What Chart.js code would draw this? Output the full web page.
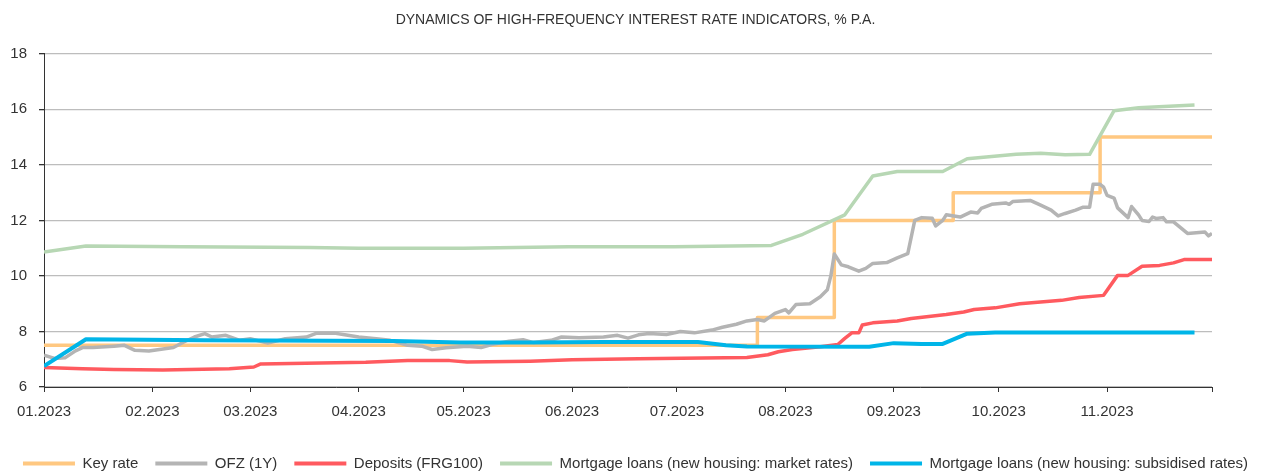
<!DOCTYPE html>
<html lang="en">
<head>
<meta charset="UTF-8" />
<title>Dynamics of high-frequency interest rate indicators</title>
<script src="https://cdn.jsdelivr.net/npm/chart.js"></script>
<style>
  body {
    margin: 0;
    background: #fff;
  }
  #wrap {
    width: 1271px;
    height: 475px;
  }
</style>
</head>
<body>

<div id="wrap">
  <canvas id="rateChart" width="1271" height="475"></canvas>
</div>

<script>
  // x values are days since 01.01.2023
  const monthTicks = [0, 31, 59, 90, 120, 151, 181, 212, 243, 273, 304, 334];
  const monthLabels = ['01.2023', '02.2023', '03.2023', '04.2023', '05.2023', '06.2023',
                       '07.2023', '08.2023', '09.2023', '10.2023', '11.2023', ''];

  const keyRateDays = [0, 204, 226, 260, 302, 334];
  const keyRate = [7.5, 8.5, 12, 13, 15, 15];

  const ofzDays = [0, 3, 6, 9, 11, 14, 20, 23, 26, 30, 34, 37, 40, 43, 46, 48, 52, 56, 59, 64,
                   69, 75, 78, 83, 86, 90, 95, 99, 104, 108, 111, 115, 121, 125, 128, 133, 137, 140, 145, 148,
                   153, 160, 164, 167, 170, 173, 178, 182, 186, 191, 194, 198, 201, 204, 206, 209, 212, 213, 215, 219,
                   222, 224, 225, 226, 228, 230, 233, 235, 237, 241, 244, 247, 249, 251, 254, 255, 257, 258, 262, 265,
                   267, 268, 271, 275, 276, 277, 282, 285, 288, 290, 292, 295, 297, 299, 300, 302, 303, 304, 306, 307,
                   310, 311, 313, 314, 316, 317, 318, 320, 321, 323, 327, 332, 333, 334];
  const ofz = [7.15, 7.03, 7.05, 7.3, 7.42, 7.42, 7.47, 7.5, 7.32, 7.3, 7.37, 7.42, 7.62, 7.8, 7.92, 7.8, 7.86, 7.68, 7.74, 7.58,
               7.74, 7.8, 7.94, 7.94, 7.88, 7.8, 7.74, 7.68, 7.5, 7.47, 7.35, 7.41, 7.47, 7.42, 7.53, 7.65, 7.7, 7.6, 7.68, 7.8,
               7.77, 7.8, 7.86, 7.76, 7.88, 7.93, 7.89, 8.0, 7.95, 8.05, 8.15, 8.26, 8.38, 8.43, 8.38, 8.65, 8.79, 8.67, 8.97, 9.0,
               9.25, 9.5, 10.0, 10.79, 10.4, 10.33, 10.17, 10.27, 10.45, 10.48, 10.65, 10.8, 12.0, 12.1, 12.08, 11.8, 12.0, 12.2, 12.12, 12.3,
               12.27, 12.43, 12.58, 12.63, 12.58, 12.68, 12.72, 12.55, 12.37, 12.16, 12.25, 12.37, 12.47, 12.47, 13.3, 13.3, 13.2, 12.9, 12.8, 12.45,
               12.1, 12.5, 12.2, 12.0, 11.96, 12.12, 12.07, 12.1, 11.95, 11.95, 11.53, 11.58, 11.44, 11.53];

  const depositDays = [0, 11, 20, 34, 53, 60, 62, 92, 104, 116, 121, 139, 151, 170, 201, 207, 210, 214, 222, 227,
                       229, 231, 233, 234, 237, 244, 248, 258, 263, 266, 272, 279, 291, 296, 303, 307, 310, 314, 319, 323,
                       326, 334];
  const deposits = [6.70, 6.66, 6.63, 6.61, 6.66, 6.72, 6.83, 6.89, 6.95, 6.95, 6.90, 6.93, 6.98, 7.02, 7.06, 7.16, 7.27, 7.35, 7.45, 7.53,
                    7.75, 7.95, 7.95, 8.23, 8.31, 8.38, 8.47, 8.61, 8.70, 8.79, 8.85, 9.0, 9.12, 9.22, 9.30, 10.02, 10.02, 10.35, 10.38, 10.47,
                    10.59, 10.59];

  const marketDays = [0, 12, 40, 76, 90, 120, 150, 180, 208, 217, 229, 237, 244, 257, 264, 278, 285, 292, 299, 306, 313, 329];
  const marketMortgage = [10.86, 11.08, 11.05, 11.02, 11.0, 11.0, 11.05, 11.05, 11.1, 11.5, 12.2, 13.6, 13.76, 13.76, 14.22, 14.38,
                          14.42, 14.36, 14.38, 15.95, 16.06, 16.16];

  const subsidDays = [0, 12, 46, 100, 119, 140, 160, 187, 195, 201, 236, 243, 251, 257, 264, 272, 329];
  const subsidMortgage = [6.75, 7.72, 7.68, 7.66, 7.6, 7.6, 7.62, 7.62, 7.5, 7.46, 7.45, 7.58, 7.55, 7.55, 7.92, 7.96, 7.96];

  function toPoints(days, values) {
    return days.map((d, i) => ({ x: d, y: values[i] }));
  }

  const FONT = 'Liberation Sans, Arial, sans-serif';

  function line(label, days, values, color, order, extra) {
    return Object.assign({
      label: label,
      data: toPoints(days, values),
      borderColor: color,
      backgroundColor: color,
      borderWidth: 3.5,
      pointRadius: 0,
      tension: 0,
      fill: false,
      order: order,
      borderJoinStyle: 'round'
    }, extra || {});
  }

  const ctx = document.getElementById('rateChart').getContext('2d');

  new Chart(ctx, {
    type: 'line',
    data: {
      datasets: [
        line('Key rate', keyRateDays, keyRate, '#ffc881', 5, { stepped: 'before' }),
        line('OFZ (1Y)', ofzDays, ofz, '#b4b4b4', 4),
        line('Deposits (FRG100)', depositDays, deposits, '#ff5a5f', 3),
        line('Mortgage loans (new housing: market rates)', marketDays, marketMortgage, '#b7d7b4', 2),
        line('Mortgage loans (new housing: subsidised rates)', subsidDays, subsidMortgage, '#00b5e8', 1, { borderWidth: 4 })
      ]
    },
    options: {
      responsive: false,
      animation: false,
      layout: { padding: { top: 0, left: 0, right: 0, bottom: -6 } },
      scales: {
        x: {
          type: 'linear',
          min: 0,
          max: 334,
          afterBuildTicks: function(axis) {
            axis.ticks = monthTicks.map(v => ({ value: v }));
          },
          afterFit: function(scale) { scale.height += 7; },
          ticks: {
            autoSkip: false,
            maxRotation: 0,
            padding: 11,
            color: '#333',
            font: { family: FONT, size: 15 },
            callback: function(value, index) {
              return monthLabels[index];
            }
          },
          grid: {
            drawOnChartArea: false,
            tickLength: 5,
            tickColor: '#333'
          },
          border: { color: '#333', width: 1 }
        },
        y: {
          min: 6,
          max: 18,
          afterFit: function(scale) { scale.width = 44; },
          ticks: {
            stepSize: 2,
            padding: 12,
            color: '#333',
            font: { family: FONT, size: 15 }
          },
          grid: {
            color: '#bdbdbd',
            lineWidth: 1.3,
            tickLength: 5,
            tickColor: '#333'
          },
          border: { color: '#333', width: 1 }
        },
        // empty axis that only keeps the right margin free
        yRight: {
          position: 'right',
          min: 6,
          max: 18,
          afterFit: function(scale) { scale.width = 59; },
          ticks: { display: false },
          grid: { display: false },
          border: { display: false }
        }
      },
      plugins: {
        title: {
          display: true,
          text: 'DYNAMICS OF HIGH-FREQUENCY INTEREST RATE INDICATORS, % P.A.',
          color: '#333',
          font: { family: FONT, size: 14, weight: 'normal' },
          padding: { top: 12, bottom: 25 }
        },
        legend: {
          position: 'bottom',
          labels: {
            color: '#333',
            font: { family: FONT, size: 15 },
            boxWidth: 52,
            boxHeight: 4,
            padding: 17,
            sort: (a, b) => a.datasetIndex - b.datasetIndex,
            generateLabels: function(chart) {
              const items = Chart.defaults.plugins.legend.labels.generateLabels(chart);
              items.forEach(it => {
                it.fillStyle = it.strokeStyle;
                it.lineWidth = 0;
              });
              return items;
            }
          }
        },
        tooltip: { enabled: false }
      }
    }
  });
</script>

</body>
</html>
